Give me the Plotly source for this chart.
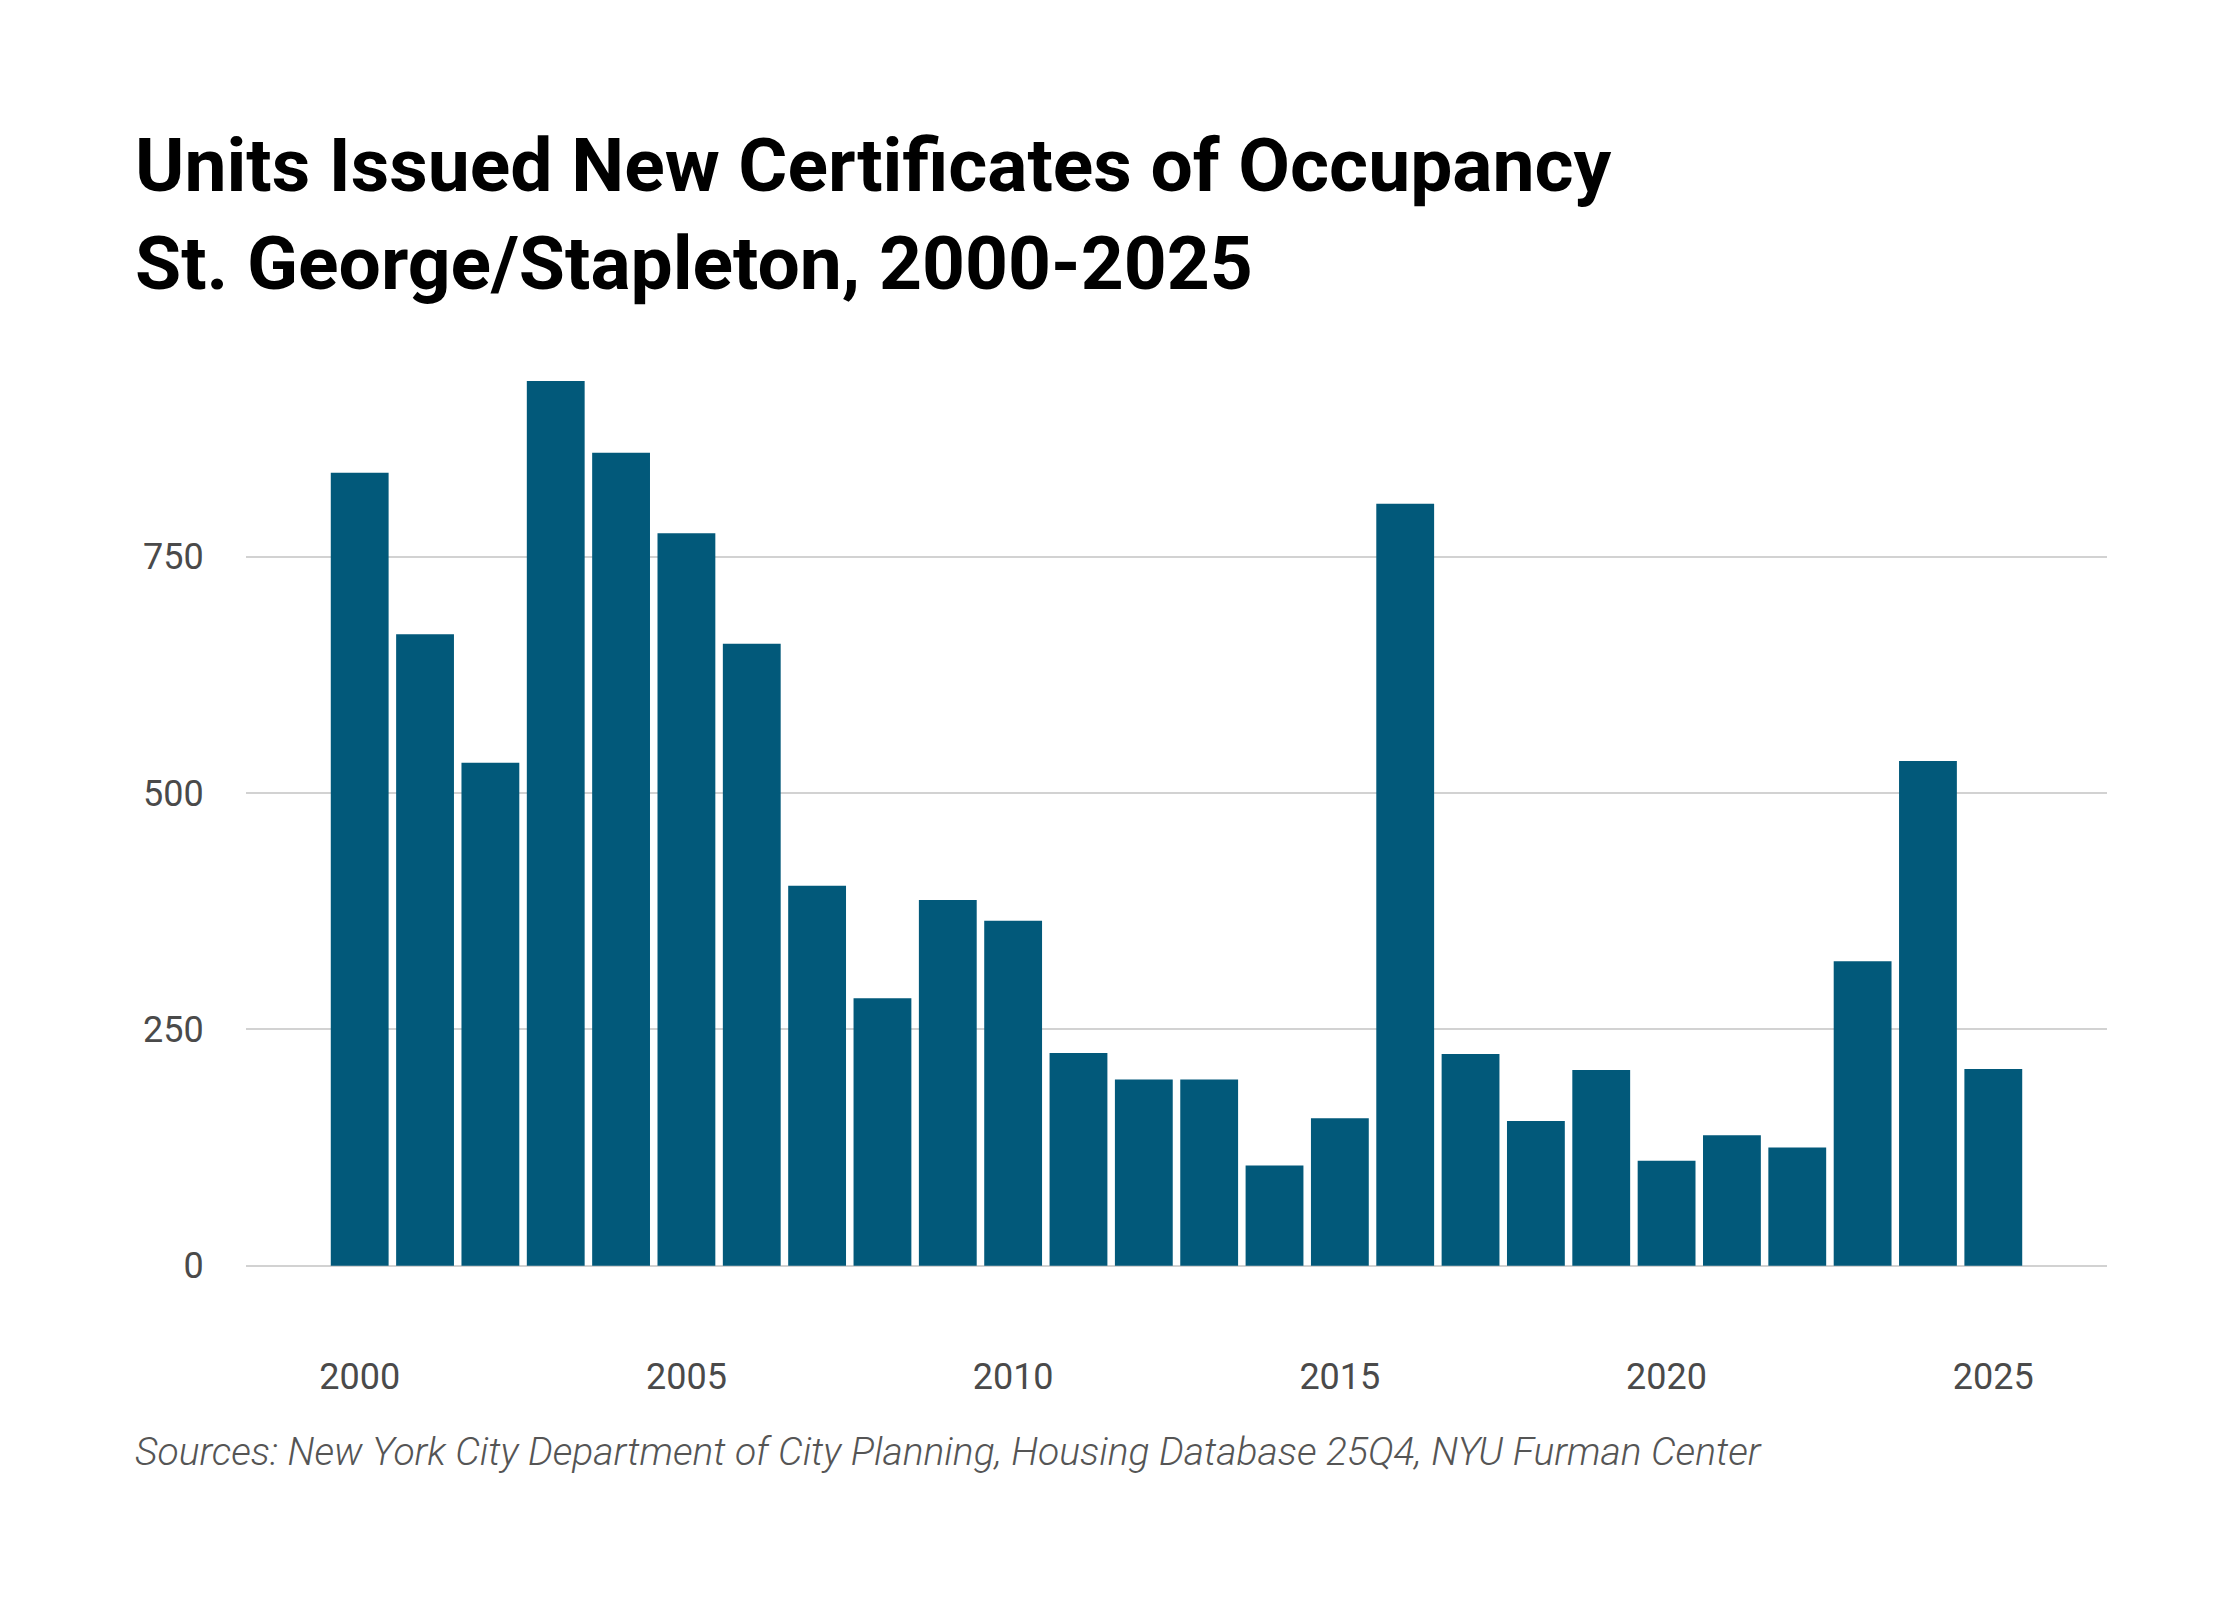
import plotly.graph_objects as go

# Data: units issued new certificates of occupancy, St. George/Stapleton
years = list(range(2000, 2026))
units = [839, 668, 532, 936, 860, 775, 658, 402, 283, 387, 365, 225, 197, 197,
         106, 156, 806, 224, 153, 207, 111, 138, 125, 322, 534, 208]
y_ticks = [0, 250, 500, 750]
x_ticks = [2000, 2005, 2010, 2015, 2020, 2025]

title_1 = "Units Issued New Certificates of Occupancy"
title_2 = "St. George/Stapleton, 2000-2025"
source = "Sources: New York City Department of City Planning, Housing Database 25Q4, NYU Furman Center"

# page body adds an 8px margin, so targets are shifted back by that
OFF = 8
W, H = 2240 - 2 * OFF, 1600 - 2 * OFF
left, right = 246 - OFF, 2107 - OFF      # plot area in px
top, bottom = 360 - OFF, 1340 - OFF
zero_px, px_per_250 = 1265.7 - OFF, 236.3


def val_at(py):
    return (zero_px - py) / px_per_250 * 250


def paper_y(py):
    return (bottom - (py - OFF)) / (bottom - top)


def paper_x(px):
    return ((px - OFF) - left) / (right - left)


fig = go.Figure(go.Bar(
    x=years, y=units,
    marker=dict(color="#02597A", line=dict(width=0)),
    width=0.885,
))

fig.update_layout(
    width=W, height=H,
    margin=dict(l=left, r=W - right, t=top, b=H - bottom),
    plot_bgcolor="white", paper_bgcolor="white",
    showlegend=False,
    font=dict(family="Roboto, 'Open Sans', sans-serif", color="#4a4a4a"),
)

fig.update_xaxes(
    range=[1998.26, 2026.74],
    tickvals=x_ticks,
    showgrid=False, zeroline=False, showline=False,
    ticks="outside", ticklen=5, tickcolor="rgba(0,0,0,0)",
    tickfont=dict(size=36, color="#4a4a4a"),
)

fig.update_yaxes(
    range=[val_at(bottom), val_at(top)],
    tickvals=y_ticks,
    showgrid=True, gridcolor="#d2d2d2", gridwidth=2,
    zeroline=True, zerolinecolor="#d2d2d2", zerolinewidth=2,
    showline=False,
    ticks="outside", ticklen=34, tickcolor="rgba(0,0,0,0)",
    tickfont=dict(size=36, color="#4a4a4a"),
)

title_font = dict(family="Roboto, sans-serif", size=75, color="#000000", weight=700)
fig.add_annotation(text=title_1, xref="paper", yref="paper",
                   x=paper_x(133), y=paper_y(165), xanchor="left", yanchor="middle",
                   showarrow=False, font=title_font)
fig.add_annotation(text=title_2, xref="paper", yref="paper",
                   x=paper_x(133), y=paper_y(263), xanchor="left", yanchor="middle",
                   showarrow=False, font=title_font)
fig.add_annotation(text=source, xref="paper", yref="paper",
                   x=paper_x(133), y=paper_y(1452), xanchor="left", yanchor="middle",
                   showarrow=False,
                   font=dict(family="Roboto, sans-serif", size=39, color="#555555",
                             style="italic", weight=300))

fig.write_html("out.html")
